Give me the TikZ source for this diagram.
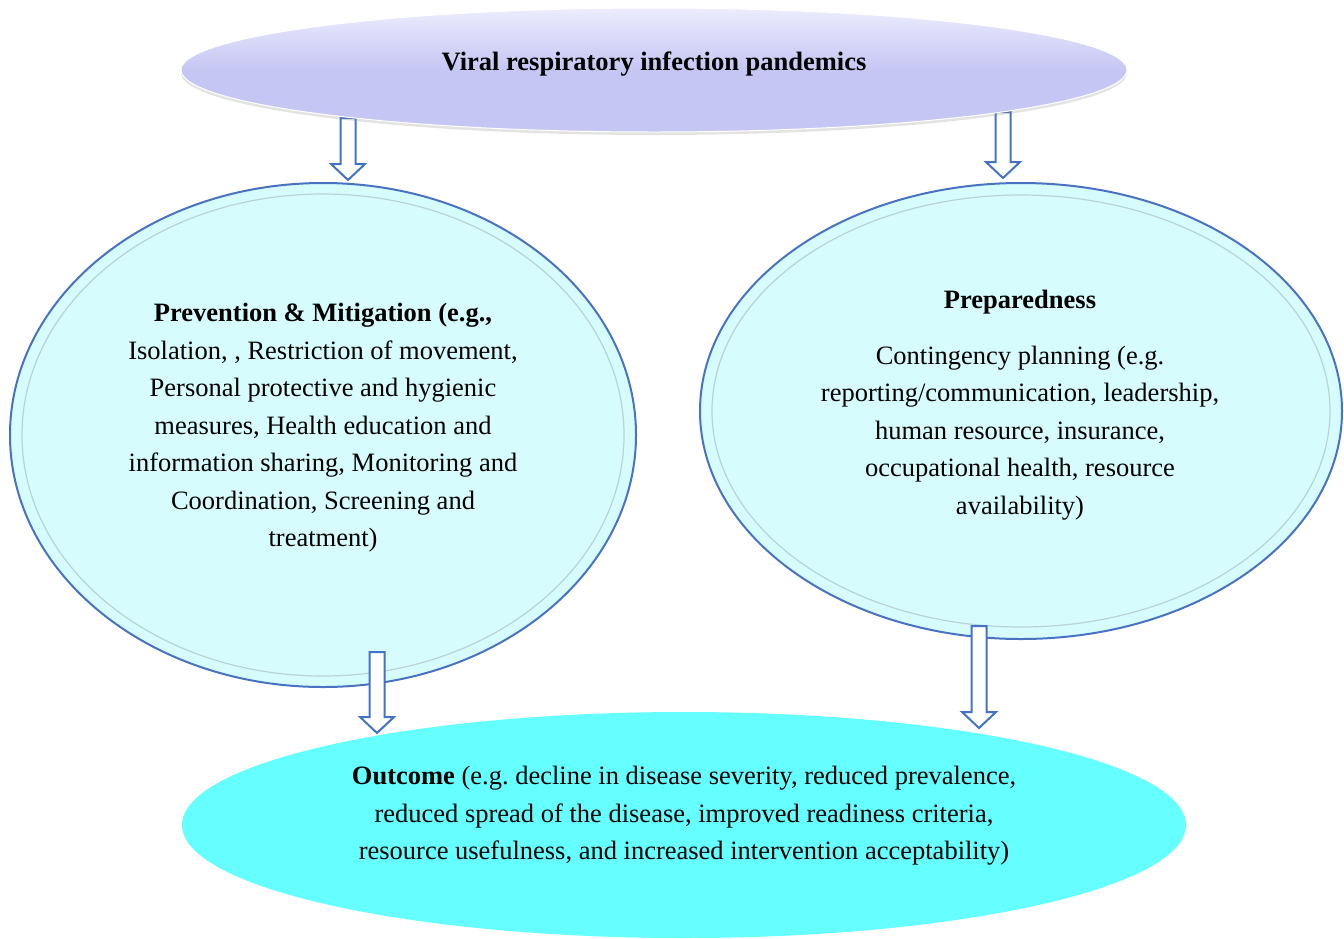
\documentclass[tikz,border=0pt]{standalone}
\usepackage{fontspec}
\setmainfont{Liberation Serif}
\usetikzlibrary{shapes.geometric,calc,shadows}
\frenchspacing

\definecolor{lavender}{HTML}{C6C6F4}
\definecolor{lavenderlight}{HTML}{ECECFD}
\definecolor{paleaqua}{HTML}{D6FCFD}
\definecolor{brightaqua}{HTML}{66FFFF}
\definecolor{rimblue}{HTML}{4A72C2}
\definecolor{innerrim}{HTML}{B9D3D4}
\definecolor{arrowblue}{HTML}{4472C4}

\tikzset{
  topoval/.style={ellipse, inner sep=0pt, top color=lavenderlight, bottom color=lavender,
    middle color=lavender, draw=white, line width=1pt,
    drop shadow={shadow xshift=0pt, shadow yshift=-3pt, opacity=0.22, fill=gray}},
  midoval/.style={ellipse, inner sep=0pt, fill=paleaqua, draw=rimblue, line width=2pt},
  inneroval/.style={draw=innerrim, line width=1.2pt},
  lowoval/.style={ellipse, inner sep=0pt, fill=brightaqua},
  bodytext/.style={align=center, inner sep=0pt, font=\fontsize{26.5pt}{37.5pt}\selectfont},
  hollowarrow/.style={draw=arrowblue, fill=white, line width=2pt, line join=miter},
}

% hollow block arrow between two named points (vertical, pointing down)
\newcommand\blockarrow[2]{%
  \path[hollowarrow] let \p1=(#1), \p2=(#2) in
    (\x1-7.5pt,\y1) -- (\x1+7.5pt,\y1) -- (\x1+7.5pt,\y2+16pt) -- (\x1+17pt,\y2+16pt)
    -- (\x2,\y2) -- (\x1-17pt,\y2+16pt) -- (\x1-7.5pt,\y2+16pt) -- cycle;}

\begin{document}
\begin{tikzpicture}[x=1pt,y=-1pt]
\useasboundingbox[fill=white] (0,0) rectangle (1344,938);

% middle ovals
\node[midoval, minimum width=626pt, minimum height=504pt] (prev) at (323,435) {};
\draw[inneroval] (prev.center) ellipse [x radius=301, y radius=241];
\node[midoval, minimum width=642pt, minimum height=456pt] (prep) at (1021,411) {};
\draw[inneroval] (prep.center) ellipse [x radius=309, y radius=216];

% bottom oval
\node[lowoval, minimum width=1004pt, minimum height=226pt] (out) at (684,825) {};

% arrow end points
\coordinate (a1s) at (348,118); \coordinate (a1e) at (348,180);
\coordinate (a2s) at (1003,112); \coordinate (a2e) at (1003,178);
\coordinate (a3s) at (377,652); \coordinate (a3e) at (377,733);
\coordinate (a4s) at (979,626); \coordinate (a4e) at (979,728);

\blockarrow{a1s}{a1e}
\blockarrow{a2s}{a2e}
\blockarrow{a3s}{a3e}
\blockarrow{a4s}{a4e}

% top oval
\node[topoval, minimum width=946pt, minimum height=124pt] (viral) at (654,70) {};
\node[bodytext, font=\fontsize{26.5pt}{37.5pt}\selectfont\bfseries] (viraltxt) at (viral.center) [yshift=6pt] {Viral respiratory infection pandemics};

% texts
\node[bodytext] (prevtxt) at (323,428) {\textbf{Prevention \& Mitigation (e.g.,}\\
Isolation, , Restriction of movement,\\
Personal protective and hygienic\\
measures, Health education and\\
information sharing, Monitoring and\\
Coordination, Screening and\\
treatment)};

\node[bodytext] (preptxt) at (1020,405) {\textbf{Preparedness}\\[18pt]
Contingency planning (e.g.\\
reporting/communication, leadership,\\
human resource, insurance,\\
occupational health, resource\\
availability)};

\node[bodytext] (outtxt) at (684,816) {\textbf{Outcome} (e.g. decline in disease severity, reduced prevalence,\\
reduced spread of the disease, improved readiness criteria,\\
resource usefulness, and increased intervention acceptability)};
\end{tikzpicture}
\end{document}
